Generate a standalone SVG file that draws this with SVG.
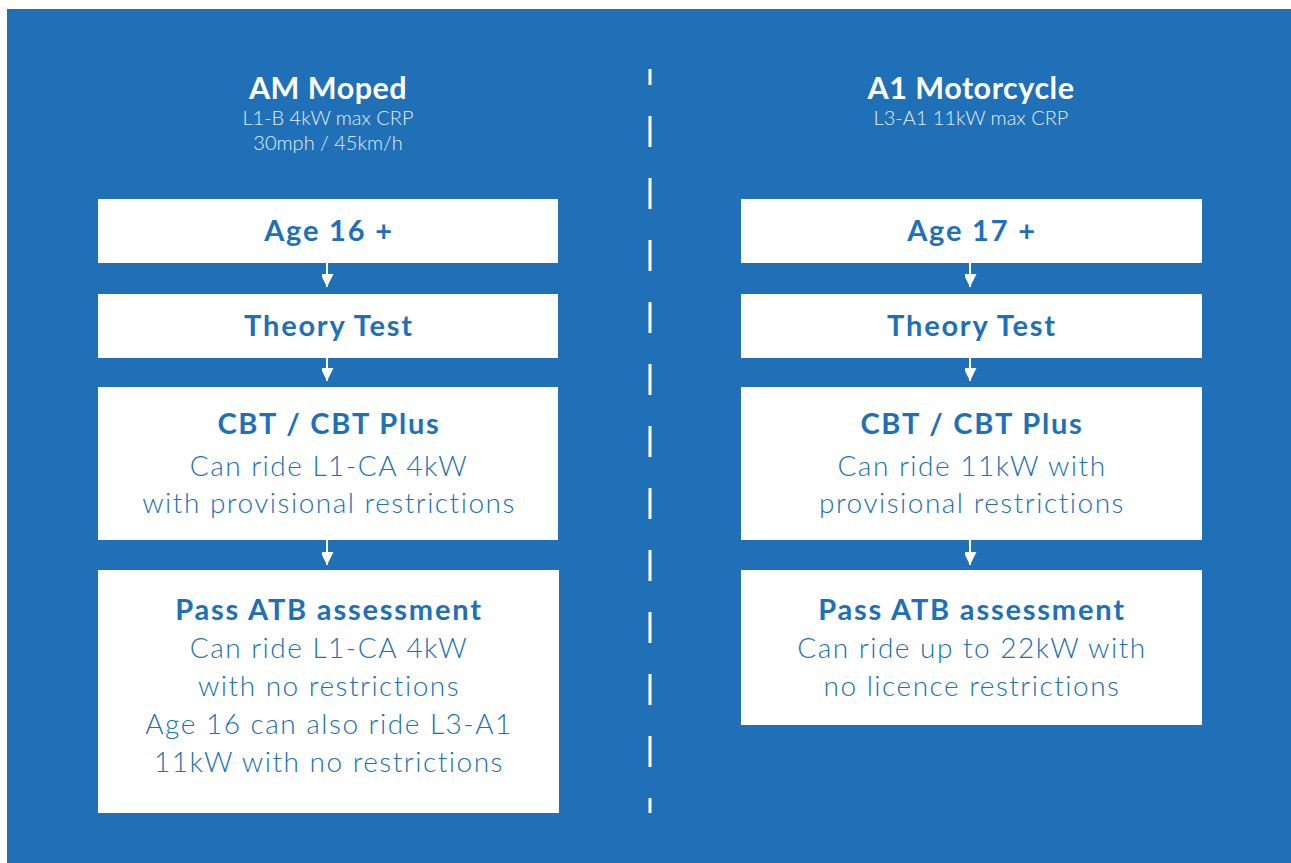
<svg xmlns="http://www.w3.org/2000/svg" width="1291" height="863" viewBox="0 0 1291 863">
  <style>
    .bg { fill: #1f70b7; }
    .box { fill: #ffffff; }
    .title { font-family: Lato, "Open Sans", sans-serif; font-weight: 700; font-size: 30.5px; letter-spacing: 0.5px; fill: #ffffff; text-anchor: middle; }
    .sub { font-family: Lato, "Open Sans", sans-serif; font-weight: 300; font-size: 20px; fill: #e4eef8; text-anchor: middle; }
    .head { font-family: Lato, "Open Sans", sans-serif; font-weight: 700; font-size: 29px; letter-spacing: 1.8px; fill: #2070b8; text-anchor: middle; }
    .body { font-family: Lato, "Open Sans", sans-serif; font-weight: 300; font-size: 28px; letter-spacing: 1.5px; fill: #2070b8; text-anchor: middle; }
    .conn { stroke: #ffffff; stroke-width: 2; fill: none; }
    .divider { stroke: #ffffff; stroke-width: 3; stroke-dasharray: 31 31; stroke-dashoffset: 15; }
  </style>
  <defs>
    <marker id="arrow" markerUnits="userSpaceOnUse" markerWidth="14" markerHeight="12" refX="13" refY="6.5" orient="auto">
      <path d="M0,0 L13,6.5 L0,13 Z" fill="#ffffff"/>
    </marker>
  </defs>

  <rect class="bg" x="7" y="9" width="1284" height="854"/>

  <g id="divider">
    <line class="divider" x1="650" y1="69" x2="650" y2="813"/>
  </g>

  <g id="header-am">
    <text class="title" x="328" y="99">AM Moped</text>
    <text class="sub" x="328" y="125">L1-B 4kW max CRP</text>
    <text class="sub" x="328" y="150">30mph / 45km/h</text>
  </g>
  <g id="header-a1">
    <text class="title" x="971" y="99">A1 Motorcycle</text>
    <text class="sub" x="971" y="125">L3-A1 11kW max CRP</text>
  </g>

  <g id="connectors">
    <line class="conn" x1="327" y1="263" x2="327" y2="287" marker-end="url(#arrow)"/>
    <line class="conn" x1="327" y1="358" x2="327" y2="381" marker-end="url(#arrow)"/>
    <line class="conn" x1="327" y1="540" x2="327" y2="565" marker-end="url(#arrow)"/>
    <line class="conn" x1="970" y1="263" x2="970" y2="287" marker-end="url(#arrow)"/>
    <line class="conn" x1="970" y1="358" x2="970" y2="381" marker-end="url(#arrow)"/>
    <line class="conn" x1="970" y1="540" x2="970" y2="565" marker-end="url(#arrow)"/>
  </g>

  <g id="am-age">
    <rect class="box" x="98" y="199" width="460" height="64"/>
    <text class="head" x="329" y="241">Age 16 +</text>
  </g>
  <g id="am-theory">
    <rect class="box" x="98" y="294" width="460" height="64"/>
    <text class="head" x="329" y="336">Theory Test</text>
  </g>
  <g id="am-cbt">
    <rect class="box" x="98" y="387" width="460" height="153"/>
    <text class="head" x="329" y="434">CBT / CBT Plus</text>
    <text class="body" x="329" y="476">Can ride L1-CA 4kW</text>
    <text class="body" x="329" y="513">with provisional restrictions</text>
  </g>
  <g id="am-atb">
    <rect class="box" x="98" y="570" width="461" height="243"/>
    <text class="head" x="329" y="620">Pass ATB assessment</text>
    <text class="body" x="329" y="658">Can ride L1-CA 4kW</text>
    <text class="body" x="329" y="696">with no restrictions</text>
    <text class="body" x="329" y="734">Age 16 can also ride L3-A1</text>
    <text class="body" x="329" y="772">11kW with no restrictions</text>
  </g>

  <g id="a1-age">
    <rect class="box" x="741" y="199" width="461" height="64"/>
    <text class="head" x="972" y="241">Age 17 +</text>
  </g>
  <g id="a1-theory">
    <rect class="box" x="741" y="294" width="461" height="64"/>
    <text class="head" x="972" y="336">Theory Test</text>
  </g>
  <g id="a1-cbt">
    <rect class="box" x="741" y="387" width="461" height="153"/>
    <text class="head" x="972" y="434">CBT / CBT Plus</text>
    <text class="body" x="972" y="476">Can ride 11kW with</text>
    <text class="body" x="972" y="513">provisional restrictions</text>
  </g>
  <g id="a1-atb">
    <rect class="box" x="741" y="570" width="461" height="155"/>
    <text class="head" x="972" y="620">Pass ATB assessment</text>
    <text class="body" x="972" y="658">Can ride up to 22kW with</text>
    <text class="body" x="972" y="696">no licence restrictions</text>
  </g>
</svg>
